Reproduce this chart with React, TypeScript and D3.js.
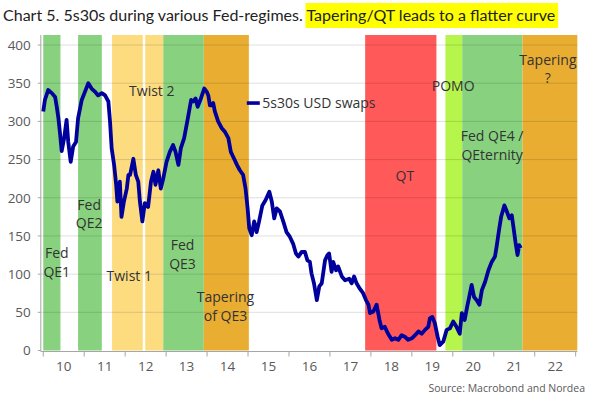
import { useRef, useEffect } from "react";
import * as d3 from "d3";

// 5s30s USD swaps, bp
const years = [
  2010.0, 2010.04, 2010.12, 2010.21, 2010.29, 2010.33, 2010.37, 2010.41, 2010.45, 2010.51,
  2010.57, 2010.61, 2010.67, 2010.73, 2010.8, 2010.85, 2010.94, 2011.02, 2011.1, 2011.18,
  2011.26, 2011.34, 2011.43, 2011.51, 2011.59, 2011.63, 2011.67, 2011.73, 2011.78, 2011.81,
  2011.87, 2011.91, 2011.97, 2012.04, 2012.08, 2012.12, 2012.2, 2012.26, 2012.32, 2012.36,
  2012.42, 2012.48, 2012.56, 2012.63, 2012.69, 2012.74, 2012.81, 2012.87, 2012.93, 2013.01,
  2013.09, 2013.17, 2013.23, 2013.3, 2013.36, 2013.44, 2013.53, 2013.61, 2013.66, 2013.72,
  2013.77, 2013.85, 2013.93, 2013.99, 2014.03, 2014.07, 2014.11, 2014.15, 2014.19, 2014.27,
  2014.36, 2014.44, 2014.52, 2014.58, 2014.66, 2014.73, 2014.8, 2014.88, 2014.94, 2014.99,
  2015.03, 2015.09, 2015.15, 2015.21, 2015.27, 2015.35, 2015.43, 2015.52, 2015.58, 2015.64,
  2015.7, 2015.78, 2015.86, 2015.94, 2016.02, 2016.1, 2016.17, 2016.23, 2016.31, 2016.39,
  2016.45, 2016.51, 2016.55, 2016.61, 2016.68, 2016.74, 2016.8, 2016.88, 2016.94, 2016.98,
  2017.04, 2017.08, 2017.15, 2017.2, 2017.29, 2017.37, 2017.47, 2017.53, 2017.59, 2017.65,
  2017.73, 2017.81, 2017.88, 2017.94, 2017.98, 2018.06, 2018.14, 2018.21, 2018.26, 2018.34,
  2018.42, 2018.51, 2018.59, 2018.67, 2018.75, 2018.83, 2018.91, 2019.0, 2019.08, 2019.16,
  2019.24, 2019.32, 2019.4, 2019.44, 2019.5, 2019.56, 2019.63, 2019.68, 2019.77, 2019.85,
  2019.93, 2020.01, 2020.09, 2020.17, 2020.22, 2020.29, 2020.35, 2020.4, 2020.46, 2020.52,
  2020.58, 2020.65, 2020.71, 2020.79, 2020.87, 2020.95, 2021.03, 2021.07, 2021.13, 2021.18,
  2021.26, 2021.32, 2021.38, 2021.44, 2021.48, 2021.53, 2021.58, 2021.62, 2021.66,
];
const swaps = [
  313, 328, 341, 337, 332, 319, 304, 284, 261, 278,
  302, 273, 247, 267, 273, 304, 328, 339, 350, 343,
  339, 334, 337, 334, 326, 300, 265, 243, 217, 195,
  221, 175, 195, 212, 230, 230, 251, 230, 221, 195,
  169, 193, 188, 221, 234, 217, 236, 212, 225, 247,
  260, 269, 260, 243, 265, 278, 304, 328, 326, 330,
  319, 330, 343, 339, 334, 321, 321, 324, 313, 300,
  291, 286, 278, 260, 251, 243, 236, 230, 212, 186,
  160, 151, 169, 155, 169, 190, 197, 208, 195, 173,
  186, 182, 169, 155, 149, 140, 127, 123, 129, 129,
  118, 116, 101, 88, 66, 84, 88, 118, 125, 127,
  103, 116, 105, 110, 97, 92, 94, 88, 97, 88,
  81, 75, 66, 60, 49, 51, 60, 40, 29, 31,
  22, 14, 16, 14, 20, 18, 14, 16, 20, 25,
  22, 27, 31, 42, 44, 36, 18, 7, 12, 27,
  29, 38, 31, 22, 49, 40, 57, 70, 86, 70,
  66, 60, 79, 90, 105, 116, 123, 136, 158, 175,
  190, 182, 173, 177, 162, 142, 125, 138, 134,
];

// Fed regimes
const bandStart = [2010.0, 2010.85, 2011.68, 2012.49, 2012.93, 2013.92, 2017.86, 2019.82, 2020.23, 2021.7];
const bandEnd = [2010.42, 2011.43, 2012.43, 2012.93, 2013.92, 2015.02, 2019.6, 2020.23, 2021.7, 2023.04];
const bandKind = ["qe", "qe", "twist", "twist", "qe", "taper", "qt", "pomo", "qe", "taper"];

const labelText = [
  ["Fed", "QE1"], ["Fed", "QE2"], ["Twist 1"], ["Twist 2"], ["Fed", "QE3"],
  ["Tapering", "of QE3"], ["QT"], ["POMO"], ["Fed QE4 /", "QEternity"], ["Tapering", "?"],
];
const labelYear = [2010.33, 2011.12, 2012.1, 2012.65, 2013.4, 2014.45, 2018.83, 2020.01, 2020.96, 2022.32];
const labelValue = [121, 184, 91, 333, 131, 63.5, 222, 340, 274, 374];

const yTicks = [0, 50, 100, 150, 200, 250, 300, 350, 400];
const yearTicks = [2010, 2011, 2012, 2013, 2014, 2015, 2016, 2017, 2018, 2019, 2020, 2021, 2022, 2023];
const yearLabels = ["10", "11", "12", "13", "14", "15", "16", "17", "18", "19", "20", "21", "22"];

const titleMain = "Chart 5. 5s30s during various Fed-regimes. ";
const titleHighlight = "Tapering/QT leads to a flatter curve";
const legendLabel = "5s30s USD swaps";
const sourceText = "Source: Macrobond and Nordea";

export default function App() {
  const ref = useRef<SVGSVGElement>(null);

  function drawChart() {
    const width = 589,
      height = 396;
    const font = "'Open Sans', sans-serif";
    const colors: Record<string, string> = {
      qe: "#88d27f",
      twist: "#fddc80",
      taper: "#e9ad32",
      qt: "#ff5959",
      pomo: "#b6f54b",
    };

    const svg = d3.select(ref.current);
    svg.selectAll("*").remove();
    svg.attr("width", width).attr("height", height);

    const x = d3.scaleLinear().domain([2009.94, 2023.04]).range([40.8, 577.3]);
    const y = d3.scaleLinear().domain([0, 400]).range([350.5, 45]);
    const top = 35;

    // title with highlighter
    const title = svg
      .append("text")
      .attr("x", 3)
      .attr("y", 21)
      .style("font-family", "Lato, sans-serif")
      .style("font-size", "16px")
      .attr("fill", "#222");
    title.append("tspan").text(titleMain);
    title.append("tspan").text(titleHighlight);
    const el = title.node() as SVGTextElement;
    const full = el.getComputedTextLength();
    const fs = (16 * 553) / full;
    title.style("font-size", fs + "px");
    const startX = 3 + el.getSubStringLength(0, titleMain.length);
    const endX = 3 + el.getComputedTextLength();
    svg
      .insert("rect", "text")
      .attr("x", startX - 1)
      .attr("y", 3)
      .attr("width", endX - startX + 4)
      .attr("height", 25)
      .attr("fill", "#ffff00");

    // bands
    svg
      .append("g")
      .selectAll("rect")
      .data(bandStart)
      .join("rect")
      .attr("x", (d) => x(d))
      .attr("y", top)
      .attr("width", (d, i) => x(bandEnd[i]) - x(d))
      .attr("height", y(0) - top)
      .attr("fill", (d, i) => colors[bandKind[i]]);

    // grid
    svg
      .append("g")
      .selectAll("line")
      .data(yTicks.filter((d) => d > 0))
      .join("line")
      .attr("x1", x(2009.94))
      .attr("x2", x(2023.04))
      .attr("y1", (d) => y(d))
      .attr("y2", (d) => y(d))
      .attr("stroke", "rgba(0,0,0,0.13)")
      .attr("stroke-width", 1);

    // y axis
    const gy = svg.append("g").attr("transform", `translate(${x(2009.94)},0)`);
    gy.append("line").attr("y1", top).attr("y2", y(0) + 1).attr("stroke", "#a6a6a6");
    gy.selectAll("line.t")
      .data(yTicks)
      .join("line")
      .attr("class", "t")
      .attr("x1", -3)
      .attr("x2", 0)
      .attr("y1", (d) => y(d))
      .attr("y2", (d) => y(d))
      .attr("stroke", "#a6a6a6");
    gy.selectAll("text")
      .data(yTicks)
      .join("text")
      .attr("x", -10)
      .attr("y", (d) => y(d))
      .attr("dy", "0.36em")
      .attr("text-anchor", "end")
      .style("font-family", font)
      .style("font-size", "13.5px")
      .attr("fill", "#595959")
      .text((d) => d);

    // x axis
    const gx = svg.append("g").attr("transform", `translate(0,${y(0) + 1})`);
    gx.append("line").attr("x1", x(2009.94)).attr("x2", x(2023.04)).attr("stroke", "#a6a6a6");
    gx.selectAll("line.t")
      .data(yearTicks)
      .join("line")
      .attr("class", "t")
      .attr("x1", (d) => x(d))
      .attr("x2", (d) => x(d))
      .attr("y1", 0)
      .attr("y2", 5)
      .attr("stroke", "#a6a6a6");
    gx.selectAll("text")
      .data(yearLabels)
      .join("text")
      .attr("x", (d, i) => x(yearTicks[i] + 0.5))
      .attr("y", 19)
      .attr("text-anchor", "middle")
      .style("font-family", font)
      .style("font-size", "13.5px")
      .attr("fill", "#595959")
      .text((d) => d);

    // band labels
    const lab = svg
      .append("g")
      .selectAll("text")
      .data(labelText)
      .join("text")
      .attr("x", (d, i) => x(labelYear[i]))
      .attr("y", (d, i) => y(labelValue[i]))
      .attr("text-anchor", "middle")
      .style("font-family", font)
      .style("font-size", "14px")
      .attr("fill", "#333");
    lab
      .selectAll("tspan")
      .data((d) => d)
      .join("tspan")
      .attr("x", function () {
        return (this.parentNode as SVGTextElement).getAttribute("x");
      })
      .attr("dy", (d, i) => (i === 0 ? 0 : 18.5))
      .text((d) => d);

    // series
    const line = d3
      .line<number>()
      .x((d, i) => x(years[i]))
      .y((d) => y(d));
    svg
      .append("path")
      .datum(swaps)
      .attr("d", line)
      .attr("fill", "none")
      .attr("stroke", "#00009c")
      .attr("stroke-width", 3.8)
      .attr("stroke-linejoin", "round");

    // legend
    const lx = x(2014.97),
      ly = y(324);
    svg
      .append("line")
      .attr("x1", lx)
      .attr("x2", lx + 13)
      .attr("y1", ly)
      .attr("y2", ly)
      .attr("stroke", "#00009c")
      .attr("stroke-width", 3.6);
    svg
      .append("text")
      .attr("x", lx + 15.5)
      .attr("y", ly)
      .attr("dy", "0.36em")
      .style("font-family", font)
      .style("font-size", "14px")
      .attr("fill", "#333")
      .text(legendLabel);

    svg
      .append("text")
      .attr("x", 585)
      .attr("y", 392)
      .attr("text-anchor", "end")
      .style("font-family", font)
      .style("font-size", "10.5px")
      .attr("fill", "#595959")
      .text(sourceText);
  }

  useEffect(drawChart, []);
  return (
    <svg
      ref={ref}
      style={{ position: "absolute", left: 0, top: 0, background: "#fff" }}
    ></svg>
  );
}
